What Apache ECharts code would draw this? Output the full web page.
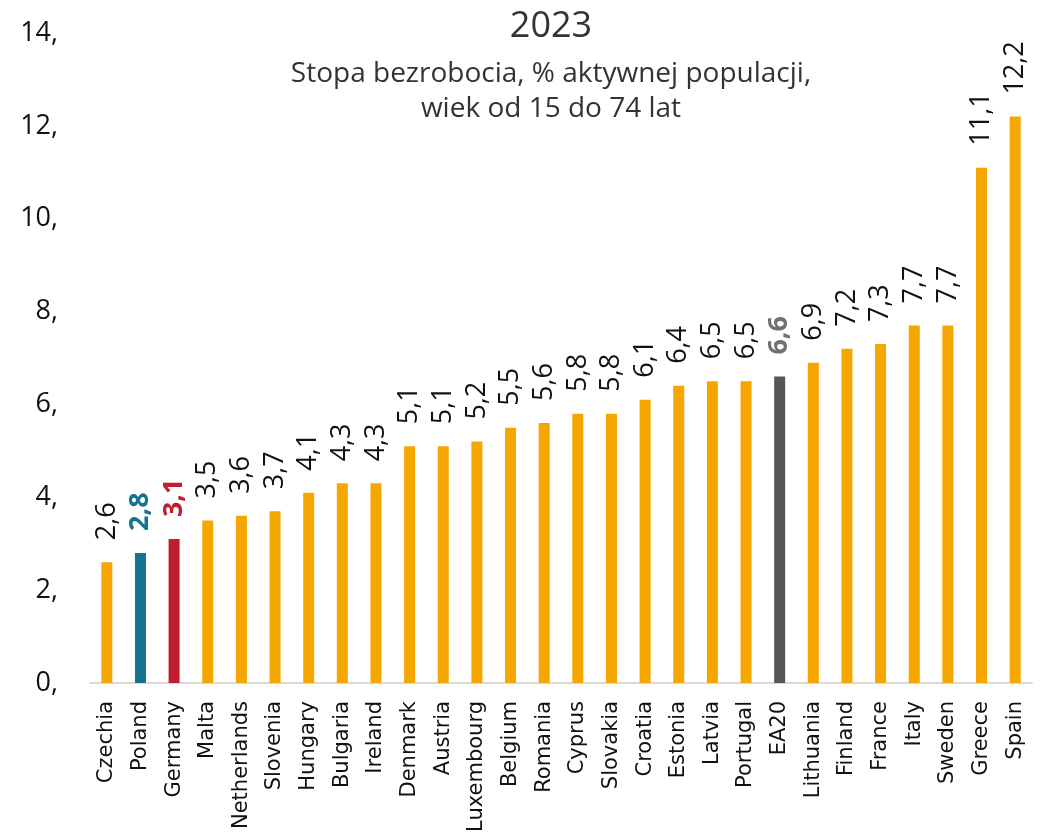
<!DOCTYPE html>
<html>
<head>
<meta charset="utf-8">
<script src="https://cdn.jsdelivr.net/npm/echarts@6/dist/echarts.min.js"></script>
<style>
  html, body { margin: 0; padding: 0; background: #fff; }
  #chart { width: 1046px; height: 840px; }
</style>
</head>
<body>
<div id="chart"></div>
<script>
var countries = ['Czechia', 'Poland', 'Germany', 'Malta', 'Netherlands', 'Slovenia', 'Hungary', 'Bulgaria',
  'Ireland', 'Denmark', 'Austria', 'Luxembourg', 'Belgium', 'Romania', 'Cyprus', 'Slovakia', 'Croatia',
  'Estonia', 'Latvia', 'Portugal', 'EA20', 'Lithuania', 'Finland', 'France', 'Italy', 'Sweden', 'Greece', 'Spain']
var rates = [2.6, 2.8, 3.1, 3.5, 3.6, 3.7, 4.1, 4.3, 4.3, 5.1, 5.1, 5.2, 5.5, 5.6, 5.8, 5.8, 6.1,
  6.4, 6.5, 6.5, 6.6, 6.9, 7.2, 7.3, 7.7, 7.7, 11.1, 12.2]
var yTicks = [0, 2, 4, 6, 8, 10, 12, 14]

// wyróżnione słupki
var highlight = {
  'Poland': { bar: '#13748F', label: '#13748F' },
  'Germany': { bar: '#BE1E2D', label: '#BE1E2D' },
  'EA20': { bar: '#53575A', label: '#6F7173' }
}

var data = rates.map(function (v, i) {
  var h = highlight[countries[i]]
  if (!h) return v
  return {
    value: v,
    itemStyle: { color: h.bar },
    label: { color: h.label, fontWeight: 'bold' }
  }
})

var chart = echarts.init(document.getElementById('chart'))
chart.setOption({
  animation: false,
  backgroundColor: '#fff',
  title: {
    text: '2023',
    subtext: 'Stopa bezrobocia, % aktywnej populacji,\nwiek od 15 do 74 lat',
    left: 546,
    textAlign: 'center',
    top: 4,
    itemGap: 12,
    textStyle: {
      fontFamily: 'Open Sans',
      fontSize: 36,
      fontWeight: 'normal',
      color: '#333'
    },
    subtextStyle: {
      fontFamily: 'Open Sans',
      fontSize: 28,
      color: '#333',
      lineHeight: 35
    }
  },
  grid: {
    left: 90,
    right: 14,
    top: 33,
    bottom: 157
  },
  xAxis: {
    type: 'category',
    data: countries,
    axisLine: { lineStyle: { color: '#D9D9D9', width: 2 } },
    axisTick: { show: false },
    axisLabel: {
      interval: 0,
      rotate: 90,
      margin: 18,
      fontFamily: 'DejaVu Sans',
      fontSize: 21,
      color: '#111'
    }
  },
  yAxis: {
    type: 'value',
    min: yTicks[0],
    max: yTicks[yTicks.length - 1],
    interval: 2,
    splitLine: { show: false },
    axisLine: { show: false },
    axisTick: { show: false },
    axisLabel: {
      formatter: function (v) { return v + ',' },
      margin: 32,
      fontFamily: 'Open Sans',
      fontSize: 27,
      color: '#111'
    }
  },
  series: [{
    type: 'bar',
    data: data,
    barWidth: 11,
    itemStyle: { color: '#F5A700' },
    label: {
      show: true,
      position: 'top',
      rotate: 90,
      align: 'left',
      verticalAlign: 'middle',
      distance: 22,
      fontFamily: 'Open Sans',
      fontSize: 27,
      color: '#111',
      formatter: function (p) { return String(p.value).replace('.', ',') }
    }
  }]
})
</script>
</body>
</html>
